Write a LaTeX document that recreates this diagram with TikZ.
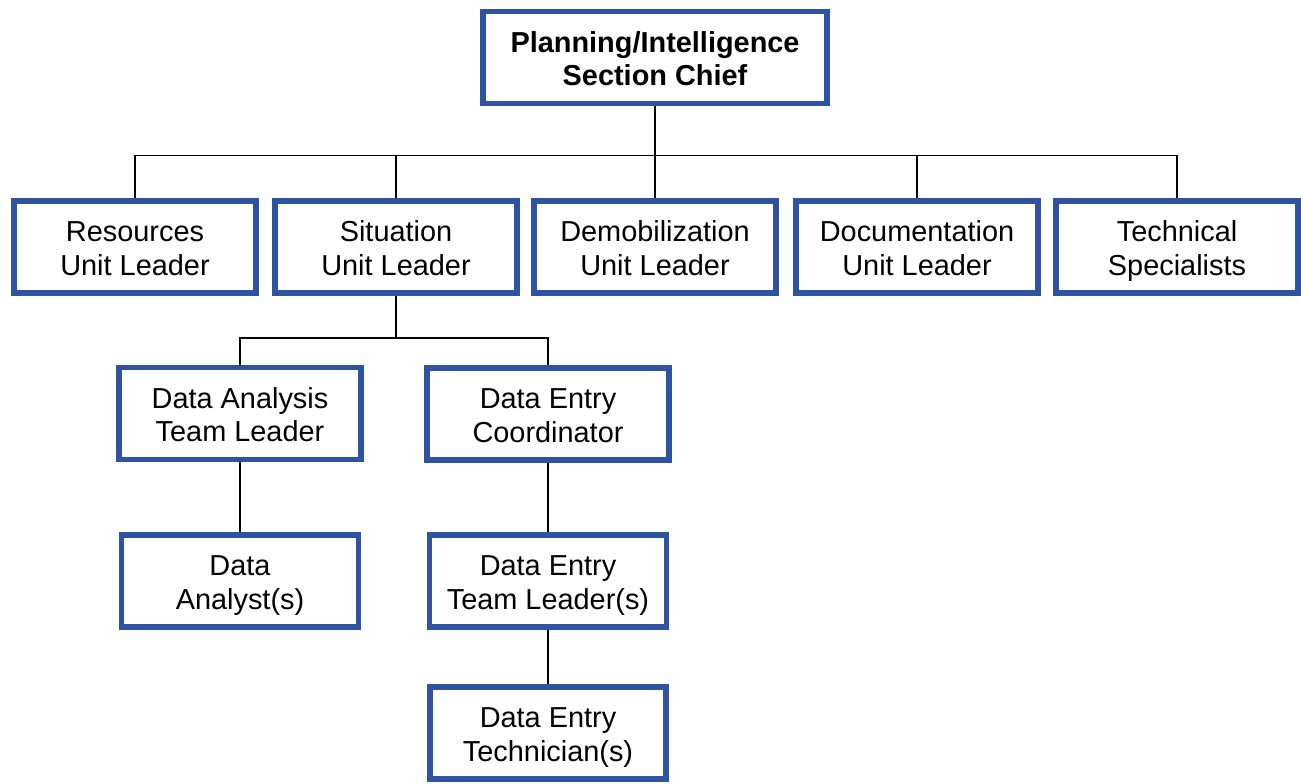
\documentclass[tikz,border=0pt]{standalone}
\usepackage{fontspec}
\setmainfont{Liberation Sans}
\definecolor{boxblue}{RGB}{47,82,162}
% two lines, with fixed room above and below
\newcommand\twolines[2]{\rule{0pt}{30bp}#1\\#2\rule[-7bp]{0pt}{7bp}}

\begin{document}
\begin{tikzpicture}[x=1bp,y=-1bp]
\tikzstyle{unit} = [rectangle, draw=boxblue, line width=5.5bp, fill=white,
align=center, minimum width=242bp, minimum height=92bp, inner sep=2pt,
font=\fontsize{29}{33.3}\selectfont]
\tikzstyle{chiefbox} = [unit, minimum width=344bp,
font=\bfseries\fontsize{29}{33.3}\selectfont]
\tikzstyle{line} = [draw, line width=1.5bp, black]
\useasboundingbox (0,0) rectangle (1301,783);
% section chief
\node [chiefbox] (chief) at (655,57.5) {\twolines{Planning/Intelligence}{Section Chief}};
% units
\node [unit] (res) at (135,247) {\twolines{Resources}{Unit Leader}};
\node [unit] (sit) at (396,247) {\twolines{Situation}{Unit Leader}};
\node [unit] (demob) at (655,247) {\twolines{Demobilization}{Unit Leader}};
\node [unit] (doc) at (917,247) {\twolines{Documentation}{Unit Leader}};
\node [unit] (tech) at (1177,247) {\twolines{Technical}{Specialists}};
% situation unit
\node [unit] (da) at (240,413.5) {\twolines{Data Analysis}{Team Leader}};
\node [unit] (dec) at (548,414) {\twolines{Data Entry}{Coordinator}};
\node [unit, minimum width=237bp] (dan) at (240,581) {\twolines{Data}{Analyst(s)}};
\node [unit, minimum width=237bp] (detl) at (548,581) {\twolines{Data Entry}{Team Leader(s)}};
\node [unit, minimum width=236bp] (dete) at (548,733) {\twolines{Data Entry}{Technician(s)}};
% connectors
\foreach \n in {res,sit,demob,doc,tech}
  \draw [line] (chief.south) -- ++(0,49) -| (\n.north);
\foreach \n in {da,dec}
  \draw [line] (sit.south) -- ++(0,42) -| (\n.north);
\draw [line] (da) -- (dan);
\draw [line] (dec) -- (detl);
\draw [line] (detl) -- (dete);
\end{tikzpicture}
\end{document}
